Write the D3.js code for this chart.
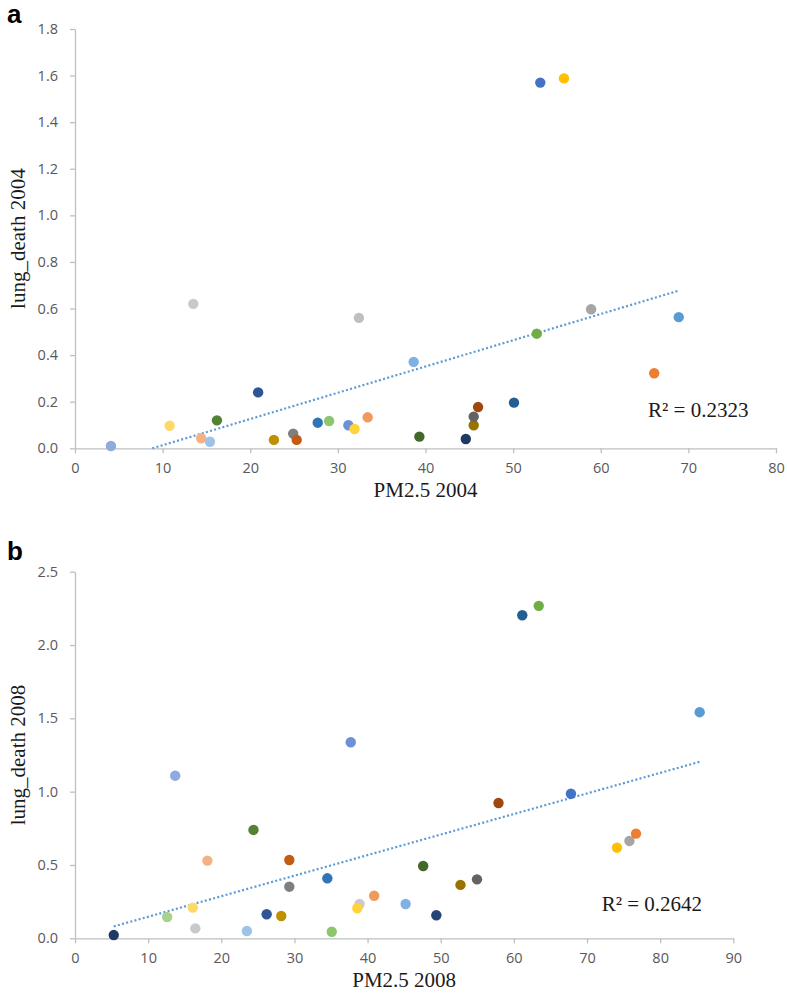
<!DOCTYPE html>
<html><head><meta charset="utf-8">
<script src="https://cdn.jsdelivr.net/npm/d3@7"></script>
<style>body{margin:0;background:#fff;}svg{display:block;}</style>
</head><body>
<svg id="c" width="787" height="1000"></svg>
<script>
// ---------- data ----------
const pm2004 = [4.1,10.8,13.5,14.4,15.4,16.2,20.9,22.7,24.9,25.3,27.7,29.0,31.2,31.9,32.4,33.4,38.65,39.3,44.6,45.5,45.5,46.0,50.1,52.7,58.9,66.1,68.9,53.1,55.8];
const death2004 = [0.010,0.097,0.620,0.043,0.028,0.120,0.240,0.036,0.063,0.036,0.110,0.117,0.099,0.083,0.560,0.133,0.371,0.050,0.040,0.099,0.136,0.177,0.196,0.492,0.597,0.322,0.563,1.570,1.588];
const pm2008 = [5.3,12.6,13.7,16.1,16.45,18.1,23.5,24.4,26.2,28.2,29.3,29.3,34.5,35.1,37.7,38.9,38.6,40.9,45.2,47.6,49.4,52.7,54.96,57.9,67.8,74.1,75.8,76.7,61.15,63.4,85.4];
const death2008 = [0.022,0.145,1.109,0.209,0.068,0.530,0.050,0.739,0.164,0.152,0.534,0.352,0.409,0.045,1.337,0.234,0.205,0.290,0.234,0.493,0.157,0.364,0.402,0.923,0.986,0.618,0.664,0.714,2.203,2.267,1.542];
const palette2004 = ["#8faadc","#ffd966","#c9c9c9","#f4b183","#9dc3e6","#548235","#2f5597","#bf9000","#7f7f7f","#c55a11","#2e75b6","#8cc76e","#6f8fd6","#ffd43b","#bfbfbf","#f19a5e","#7fb2e3","#43682b","#203864","#997300","#636363","#9e480e","#255e91","#70ad47","#a5a5a5","#ed7d31","#5b9bd5","#4472c4","#ffc000"];
const palette2008 = ["#203864","#a9d18e","#8faadc","#ffd966","#c9c9c9","#f4b183","#9dc3e6","#548235","#2f5597","#bf9000","#c55a11","#7f7f7f","#2e75b6","#8cc76e","#6f8fd6","#c9c9c9","#ffd43b","#f19a5e","#7fb2e3","#43682b","#264478","#997300","#636363","#9e480e","#4472c4","#ffc000","#a5a5a5","#ed7d31","#255e91","#70ad47","#5b9bd5"];
const xTicks2004 = [0,10,20,30,40,50,60,70,80];
const yTicks2004 = [0,0.2,0.4,0.6,0.8,1.0,1.2,1.4,1.6,1.8];
const xTicks2008 = [0,10,20,30,40,50,60,70,80,90];
const yTicks2008 = [0,0.5,1.0,1.5,2.0,2.5];
const r2Labels = ["R\u00b2 = 0.2323","R\u00b2 = 0.2642"];

const svg = d3.select("#c");

function panel(cfg){
  const g = svg.append("g");
  const x = d3.scaleLinear().domain(cfg.xDomain).range([cfg.left, cfg.right]);
  const y = d3.scaleLinear().domain(cfg.yDomain).range([cfg.bottom, cfg.top]);

  // panel letter
  g.append("text").attr("x",7).attr("y",cfg.letterY)
    .attr("font-family","Liberation Sans, Arial, sans-serif").attr("font-weight","bold")
    .attr("font-size",26).attr("fill","#000").text(cfg.letter);

  // axes
  const xa = g.append("g").attr("transform",`translate(0,${cfg.bottom})`)
    .call(d3.axisBottom(x).tickValues(cfg.xTicks).tickSize(5).tickSizeOuter(0).tickPadding(9).tickFormat(d3.format("d")));
  const ya = g.append("g").attr("transform",`translate(${cfg.left},0)`)
    .call(d3.axisLeft(y).tickValues(cfg.yTicks).tickSize(5).tickSizeOuter(0).tickPadding(12).tickFormat(d3.format(".1f")));
  [xa,ya].forEach(a=>{
    a.select(".domain").attr("stroke","#bfbfbf").attr("stroke-width",1.3);
    a.selectAll(".tick line").attr("stroke","#bfbfbf").attr("stroke-width",1.3);
    a.selectAll(".tick text").attr("font-family","Open Sans, sans-serif").attr("font-size",14.5).attr("fill","#595959");
  });

  // trendline (OLS from data), clipped to plot area
  const xs = cfg.xs, ys = cfg.ys;
  const mx = d3.mean(xs), my = d3.mean(ys);
  let sxy=0,sxx=0; xs.forEach((v,i)=>{sxy+=(v-mx)*(ys[i]-my); sxx+=(v-mx)*(v-mx);});
  const b = sxy/sxx, a0 = my - b*mx;
  let x0 = d3.min(xs), x1 = d3.max(xs);
  if (a0 + b*x0 < cfg.yDomain[0]) x0 = (cfg.yDomain[0]-a0)/b;
  g.append("line")
    .attr("x1",x(x0)).attr("y1",y(a0+b*x0)).attr("x2",x(x1)).attr("y2",y(a0+b*x1))
    .attr("stroke","#5b9bd5").attr("stroke-width",2.2).attr("stroke-dasharray","2,2.3");

  // points
  g.selectAll("circle").data(xs.map((v,i)=>({x:v,y:ys[i],c:cfg.colors[i]}))).enter()
    .append("circle").attr("cx",d=>x(d.x)).attr("cy",d=>y(d.y)).attr("r",5.2).attr("fill",d=>d.c);

  // titles
  g.append("text").attr("x",(cfg.left+cfg.right)/2).attr("y",cfg.bottom+49)
    .attr("text-anchor","middle").attr("font-family","Liberation Serif, Times New Roman, serif")
    .attr("font-size",21).attr("fill","#1a1a1a").text(cfg.xTitle);
  const cy = (cfg.top+cfg.bottom)/2;
  g.append("text").attr("transform",`translate(25,${cy}) rotate(-90)`)
    .attr("text-anchor","middle").attr("font-family","Liberation Serif, Times New Roman, serif")
    .attr("font-size",21).attr("fill","#1a1a1a").text(cfg.yTitle);

  // R^2 label
  g.append("text").attr("x",x(cfg.r2x)).attr("y",y(cfg.r2y))
    .attr("font-family","Liberation Serif, Times New Roman, serif")
    .attr("font-size",21).attr("fill","#1a1a1a").text(cfg.r2);
}

panel({letter:"a",letterY:23,left:75,right:776,top:29,bottom:448.3,
  xDomain:[0,80],yDomain:[0,1.8],xTicks:xTicks2004,yTicks:yTicks2004,
  xs:pm2004,ys:death2004,colors:palette2004,
  xTitle:"PM2.5 2004",yTitle:"lung_death 2004",r2:r2Labels[0],r2x:65.4,r2y:0.135});
panel({letter:"b",letterY:560,left:75,right:733.3,top:571.7,bottom:938.3,
  xDomain:[0,90],yDomain:[0,2.5],xTicks:xTicks2008,yTicks:yTicks2008,
  xs:pm2008,ys:death2008,colors:palette2008,
  xTitle:"PM2.5 2008",yTitle:"lung_death 2008",r2:r2Labels[1],r2x:72,r2y:0.188});
</script>
</body></html>
